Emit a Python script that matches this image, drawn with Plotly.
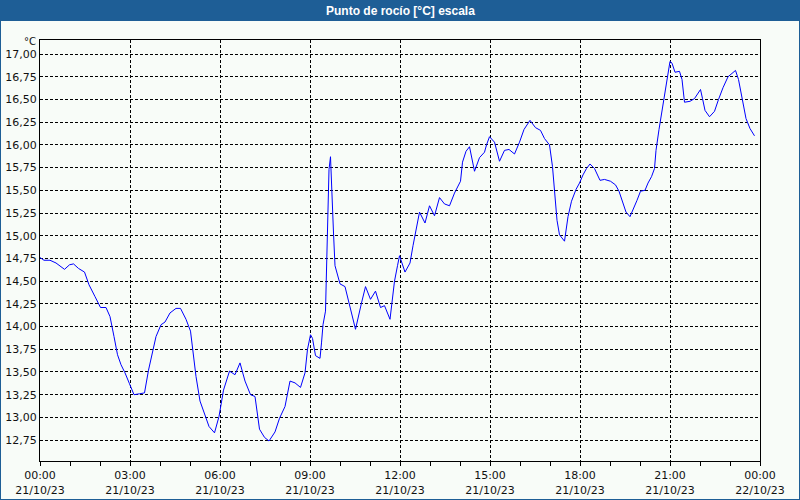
import plotly.graph_objects as go

times = [
    "00:00", "00:08", "00:20", "00:32", "00:49", "00:59", "01:07", "01:17", "01:29", "01:38",
    "01:50", "02:01", "02:12", "02:20", "02:28", "02:35", "02:42", "02:50", "02:59", "03:08",
    "03:19", "03:29", "03:37", "03:46", "03:52", "04:02", "04:10", "04:20", "04:32", "04:41",
    "04:52", "05:01", "05:05", "05:12", "05:20", "05:29", "05:38", "05:49", "05:58", "06:07",
    "06:19", "06:30", "06:40", "06:50", "07:01", "07:10", "07:19", "07:29", "07:38", "07:50",
    "07:59", "08:10", "08:20", "08:30", "08:41", "08:50", "08:55", "09:01", "09:05", "09:11",
    "09:20", "09:23", "09:26", "09:31", "09:35", "09:38", "09:41", "09:43", "09:47", "09:50",
    "09:55", "10:00", "10:10", "10:20", "10:31", "10:43", "10:51", "11:01", "11:11", "11:21",
    "11:29", "11:40", "11:45", "11:49", "11:55", "11:59", "12:10", "12:20", "12:26", "12:32",
    "12:39", "12:50", "12:59", "13:09", "13:19", "13:29", "13:39", "13:49", "14:01", "14:05",
    "14:12", "14:19", "14:29", "14:39", "14:49", "14:53", "14:59", "15:09", "15:19", "15:29",
    "15:38", "15:49", "15:59", "16:08", "16:20", "16:31", "16:41", "16:49", "16:59", "17:05",
    "17:10", "17:14", "17:19", "17:29", "17:36", "17:43", "17:52", "17:59", "18:06", "18:13",
    "18:20", "18:29", "18:40", "18:49", "19:01", "19:11", "19:18", "19:26", "19:32", "19:40",
    "19:46", "19:54", "20:01", "20:10", "20:16", "20:23", "20:29", "20:32", "20:38", "20:43",
    "20:47", "20:53", "20:56", "21:00", "21:04", "21:10", "21:19", "21:24", "21:29", "21:40",
    "21:49", "22:01", "22:05", "22:10", "22:19", "22:29", "22:37", "22:46", "22:56", "23:11",
    "23:17", "23:25", "23:32", "23:40", "23:49",
]
dew_point = [
    14.76, 14.73, 14.73, 14.70, 14.63, 14.68, 14.69, 14.64, 14.60, 14.46,
    14.33, 14.21, 14.21, 14.11, 13.89, 13.69, 13.58, 13.49, 13.37, 13.25,
    13.26, 13.27, 13.52, 13.74, 13.89, 14.02, 14.05, 14.15, 14.20, 14.20,
    14.08, 13.95, 13.74, 13.45, 13.18, 13.03, 12.90, 12.83, 13.01, 13.30,
    13.51, 13.47, 13.60, 13.40, 13.25, 13.23, 12.87, 12.78, 12.74, 12.84,
    12.99, 13.12, 13.40, 13.38, 13.33, 13.49, 13.75, 13.91, 13.87, 13.68,
    13.65, 13.82, 14.02, 14.17, 15.00, 15.73, 15.87, 15.51, 15.03, 14.67,
    14.56, 14.47, 14.44, 14.22, 13.97, 14.26, 14.44, 14.30, 14.39, 14.21,
    14.23, 14.08, 14.30, 14.50, 14.67, 14.78, 14.60, 14.70, 14.89, 15.07,
    15.26, 15.14, 15.33, 15.22, 15.42, 15.35, 15.33, 15.47, 15.60, 15.81,
    15.93, 15.98, 15.71, 15.86, 15.92, 16.00, 16.09, 16.03, 15.82, 15.94,
    15.95, 15.90, 16.03, 16.17, 16.27, 16.19, 16.16, 16.07, 16.00, 15.76,
    15.47, 15.17, 15.01, 14.94, 15.21, 15.38, 15.51, 15.58, 15.67, 15.74,
    15.79, 15.74, 15.61, 15.62, 15.60, 15.56, 15.49, 15.36, 15.26, 15.21,
    15.28, 15.39, 15.49, 15.50, 15.58, 15.65, 15.74, 15.94, 16.17, 16.35,
    16.50, 16.68, 16.83, 16.92, 16.90, 16.80, 16.81, 16.72, 16.47, 16.48,
    16.51, 16.61, 16.51, 16.38, 16.31, 16.37, 16.50, 16.63, 16.75, 16.82,
    16.72, 16.50, 16.29, 16.18, 16.10,
]
day = "2023-10-21"
title_text = "Punto de rocío [°C] escala"
unit_text = "°C"

x_vals = [f"{day} {t}" for t in times]

FRAME = "#1E5E96"
BG = "#F8FCF8"
FONT = "DejaVu Sans"
TXT = "#111111"

# plot area pixels: x 40..760, y 40..461
L, R, T, B = 40, 40, 40, 39
W, H = 800, 500
pw, ph = W - L - R, H - T - B


def px(xp):
    return (xp - L) / pw


def py(yp):
    return (H - B - yp) / ph


fig = go.Figure()
fig.add_trace(go.Scatter(
    x=x_vals, y=dew_point, mode="lines",
    line=dict(color="#0000FF", width=1),
    hoverinfo="skip", showlegend=False,
))

fig.update_layout(
    width=W, height=H,
    margin=dict(l=L, r=R, t=T, b=B, pad=0, autoexpand=False),
    paper_bgcolor=FRAME,
    plot_bgcolor=BG,
    separators=",.",
    font=dict(family=FONT, size=11, color=TXT),
    showlegend=False,
    shapes=[
        dict(type="rect", xref="paper", yref="paper", layer="below",
             x0=px(1), x1=px(W - 1), y0=py(H - 1), y1=py(21),
             fillcolor=BG, line=dict(width=0)),
    ],
    annotations=[
        dict(text=title_text, xref="paper", yref="paper",
             x=px(400), y=py(10.5), xanchor="center", yanchor="middle",
             showarrow=False,
             font=dict(family="Liberation Sans", size=12, color="white", weight="bold")),
        dict(text=unit_text, xref="paper", yref="paper",
             x=px(38), y=py(41.5), xanchor="right", yanchor="middle",
             showarrow=False, font=dict(family=FONT, size=10, color=TXT)),
    ],
)

fig.update_xaxes(
    type="date", automargin=False,
    range=[f"{day} 00:00", "2023-10-22 00:00"],
    dtick=3 * 3600 * 1000,
    tick0=f"{day} 00:00",
    tickformat="%H:%M<br>%d/%m/%y",
    ticks="outside", ticklen=4, tickcolor="black", tickwidth=1,
    minor=dict(dtick=3600 * 1000, ticks="outside", ticklen=4, tickcolor="black", showgrid=False),
    showgrid=True, gridcolor="black", gridwidth=1, griddash="3px,2px",
    showline=True, linecolor="black", linewidth=1, mirror=True,
    zeroline=False, tickfont=dict(family=FONT, size=11, color=TXT),
)
fig.update_yaxes(
    automargin=False,
    range=[12.52, 17.155],
    tick0=12.75, dtick=0.25, tickformat=".2f",
    ticks="", showgrid=True, gridcolor="black", gridwidth=1, griddash="3px,2px",
    showline=True, linecolor="black", linewidth=1, mirror=True,
    zeroline=False, tickfont=dict(family=FONT, size=11, color=TXT),
)

fig.write_html("out.html")
